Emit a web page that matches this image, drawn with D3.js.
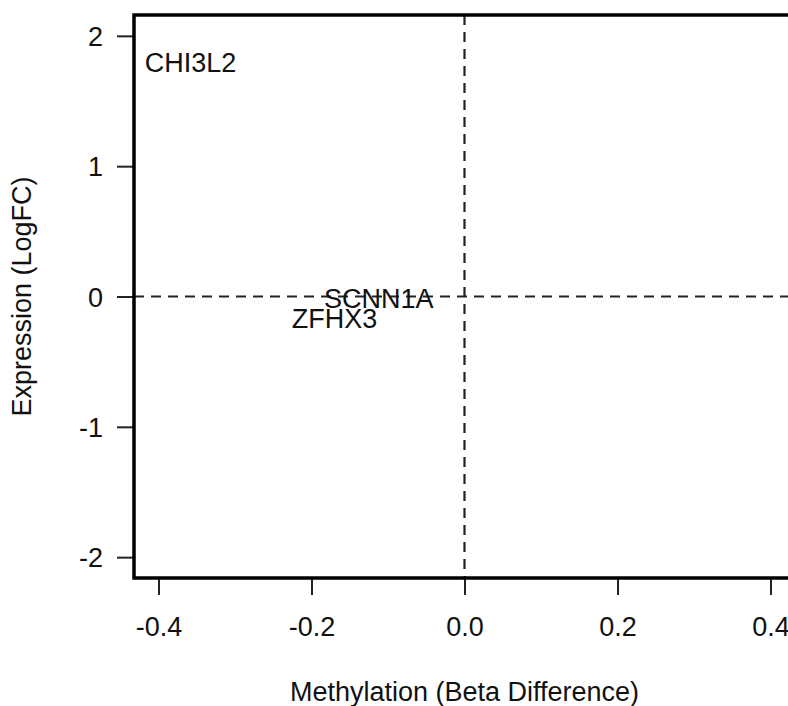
<!DOCTYPE html>
<html>
<head>
<meta charset="utf-8">
<script src="https://cdn.jsdelivr.net/npm/d3@7"></script>
<style>
  html, body { margin: 0; padding: 0; background: #fff; }
  svg { display: block; font-family: "Liberation Sans", Arial, Helvetica, sans-serif; }
</style>
</head>
<body>
<svg id="chart" width="788" height="706"></svg>
<script>
// Genes plotted by methylation change (x) and expression change (y)
const genes       = ["CHI3L2", "SCNN1A", "ZFHX3"];
const methylation = [-0.358, -0.112, -0.170];
const expression  = [1.80, -0.01, -0.165];

const xTicks = [-0.4, -0.2, 0.0, 0.2, 0.4];
const yTicks = [-2, -1, 0, 1, 2];

// Axis limits with a 4% pad on each side
const xLim = [-0.4, 0.4];
const yLim = [-2, 2];
const pad = (lim) => { const d = (lim[1] - lim[0]) * 0.04; return [lim[0] - d, lim[1] + d]; };

const svg = d3.select("#chart");
const plot = { left: 134, right: 795, top: 15, bottom: 578 };
const FONT = 27;

const x = d3.scaleLinear().domain(pad(xLim)).range([plot.left, plot.right]);
const y = d3.scaleLinear().domain(pad(yLim)).range([plot.bottom, plot.top]);

const fmtX = v => d3.format(".1f")(v).replace("\u2212", "-");
const fmtY = v => d3.format("d")(v).replace("\u2212", "-");

// Reference lines through the origin
svg.append("line")
  .attr("x1", plot.left).attr("x2", plot.right)
  .attr("y1", y(0)).attr("y2", y(0))
  .attr("stroke", "#222").attr("stroke-width", 2.2)
  .attr("stroke-dasharray", "10,7");
svg.append("line")
  .attr("x1", x(0)).attr("x2", x(0))
  .attr("y1", plot.top).attr("y2", plot.bottom)
  .attr("stroke", "#222").attr("stroke-width", 2.2)
  .attr("stroke-dasharray", "10,7");

// Gene labels
svg.append("g").selectAll("text")
  .data(genes)
  .join("text")
  .attr("x", (d, i) => x(methylation[i]))
  .attr("y", (d, i) => y(expression[i]))
  .attr("dy", "0.36em")
  .attr("text-anchor", "middle")
  .attr("font-size", FONT)
  .attr("fill", "#111")
  .text(d => d);

// Bottom axis
const gx = svg.append("g")
  .attr("transform", `translate(0,${plot.bottom})`)
  .call(d3.axisBottom(x).tickValues(xTicks).tickFormat(fmtX).tickSize(17).tickSizeOuter(0).tickPadding(22));
gx.select(".domain").remove();
gx.selectAll(".tick line").attr("stroke", "#222").attr("stroke-width", 2);
gx.selectAll(".tick text").attr("font-size", FONT).attr("fill", "#111")
  .attr("font-family", null);

// Left axis
const gy = svg.append("g")
  .attr("transform", `translate(${plot.left},0)`)
  .call(d3.axisLeft(y).tickValues(yTicks).tickFormat(fmtY).tickSize(17).tickSizeOuter(0).tickPadding(14));
gy.select(".domain").remove();
gy.selectAll(".tick line").attr("stroke", "#222").attr("stroke-width", 2);
gy.selectAll(".tick text").attr("font-size", FONT).attr("fill", "#111")
  .attr("dy", "0.36em").attr("font-family", null);

// Plot frame
svg.append("rect")
  .attr("x", plot.left).attr("y", plot.top)
  .attr("width", plot.right - plot.left).attr("height", plot.bottom - plot.top)
  .attr("fill", "none").attr("stroke", "#000").attr("stroke-width", 3.5);

// Axis titles
svg.append("text")
  .attr("x", x(0)).attr("y", 701)
  .attr("text-anchor", "middle")
  .attr("font-size", FONT).attr("fill", "#111")
  .text("Methylation (Beta Difference)");

svg.append("text")
  .attr("transform", `translate(31,${y(0)}) rotate(-90)`)
  .attr("text-anchor", "middle")
  .attr("font-size", FONT).attr("fill", "#111")
  .text("Expression (LogFC)");
</script>
</body>
</html>
